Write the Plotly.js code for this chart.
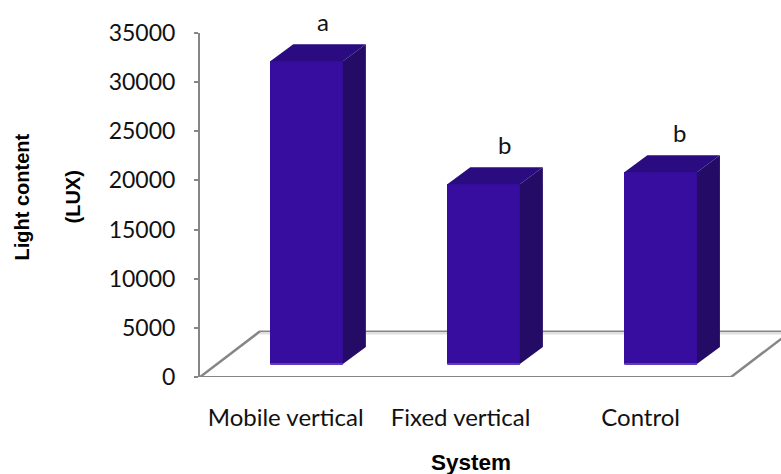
<!DOCTYPE html>
<html><head><meta charset="utf-8">
<script src="https://cdn.plot.ly/plotly-3.0.1.min.js"></script>
<style>html,body{margin:0;padding:0;background:#fff}</style></head>
<body><div id="chart" style="width:781px;height:474px"></div>
<script>
const categories = ["Mobile vertical", "Fixed vertical", "Control"];
const values = [30800, 18300, 19500];
const letters = ["a", "b", "b"];
const letterShift = [0.093, 0.116, 0.105];
const tickPositions = [-0.118, 0.870, 1.887];
const barPositions = [0, 1, 2];
const BASE = 1320, WIDTH = 0.41, DX = 0.13, DY = 1730;
const FRONT = "#370D9F", SIDE = "#230B66", TOP = "#2A0C80", EDGE = "#5F3DB8", GRID = "#868686";
const XMIN = -0.602, XMAX = 2.68, BACK = 4650, FLOOR_DX = 0.339;
const YMAX = 35000;

const traces = [{
  type: "bar", x: barPositions, y: values, base: BASE, width: WIDTH,
  marker: {color: FRONT, line: {width: 0}}, hoverinfo: "skip", showlegend: false
}];
barPositions.forEach((p, i) => {
  const l = p - WIDTH / 2, r = p + WIDTH / 2, t = BASE + values[i];
  traces.push({type: "scatter", mode: "lines", fill: "toself", fillcolor: SIDE, line: {width: 0},
    x: [r, r + DX, r + DX, r, r], y: [BASE, BASE + DY, t + DY, t, BASE], showlegend: false, hoverinfo: "skip"});
  traces.push({type: "scatter", mode: "lines", fill: "toself", fillcolor: TOP, line: {width: 0},
    x: [l, l + DX, r + DX, r, l], y: [t, t + DY, t + DY, t, t], showlegend: false, hoverinfo: "skip"});
  traces.push({type: "scatter", mode: "lines", line: {width: 2, color: EDGE},
    x: [l, r], y: [BASE, BASE], showlegend: false, hoverinfo: "skip"});
});
traces.push({type: "scatter", mode: "lines", cliponaxis: false, line: {width: 3, color: GRID},
  x: [XMIN, XMIN + 3], y: [-60, -60], showlegend: false, hoverinfo: "skip"});

const floorLine = (x0, y0, x1, y1, color, w) => ({type: "line", layer: "below", xref: "x", yref: "y",
  x0, y0, x1, y1, line: {color, width: w}});
const shapes = [
  floorLine(XMIN + FLOOR_DX, BACK - 170, XMAX, BACK - 170, "#E0E0E0", 3),
  floorLine(XMIN + FLOOR_DX, BACK, XMAX, BACK, GRID, 1.5),
  floorLine(XMIN, 0, XMIN + FLOOR_DX, BACK, GRID, 2.5),
  floorLine(XMIN + 3, 0, XMIN + 3 + FLOOR_DX, BACK, GRID, 2.5)
];

const tickFont = {family: "Lato, sans-serif", size: 23, color: "#111"};
const catFont = {family: "Lato, sans-serif", size: 24, color: "#111"};
const titleFont = {family: "Liberation Sans", size: 20, color: "#000"};
const pageText = (text, px, py, angle, size) => ({xref: "paper", yref: "paper", xanchor: "center", yanchor: "middle",
  x: (px - 200) / 581, y: (377 - py) / 344, text, textangle: angle, showarrow: false,
  font: {...titleFont, size}});
const annotations = letters.map((s, i) => ({
  x: barPositions[i] + letterShift[i], y: (BASE + values[i] + 4070) / YMAX, xanchor: "center", yanchor: "middle",
  xref: "x", yref: "paper", text: s, showarrow: false, font: catFont
}));
annotations.push(
  pageText("<b>Light content</b>", 21, 197.5, -90, 20),
  pageText("<b>(LUX)</b>", 72, 197.5, -90, 20),
  pageText("<b>System</b>", 471, 462, 0, 22.5)
);

Plotly.newPlot("chart", traces, {
  width: 781, height: 474, paper_bgcolor: "#fff", plot_bgcolor: "#fff", showlegend: false,
  margin: {l: 200, r: 0, t: 33, b: 97, pad: 0}, bargap: 0,
  xaxis: {type: "linear", range: [XMIN, XMAX], tickmode: "array", tickvals: tickPositions, ticktext: categories,
    ticks: "", showgrid: false, zeroline: false, showline: false, tickfont: catFont, ticklabelstandoff: 24},
  yaxis: {range: [0, YMAX], tickmode: "array", tickvals: [0,5000,10000,15000,20000,25000,30000,35000], ticks: "outside", ticklen: 4,
    tickcolor: GRID, tickwidth: 2, showgrid: false, zeroline: false, showline: true, linecolor: GRID, linewidth: 2, tickfont: tickFont,
    tickformat: "d", ticklabelstandoff: 14},
  shapes, annotations
}, {displayModeBar: false, staticPlot: true});
</script></body></html>
